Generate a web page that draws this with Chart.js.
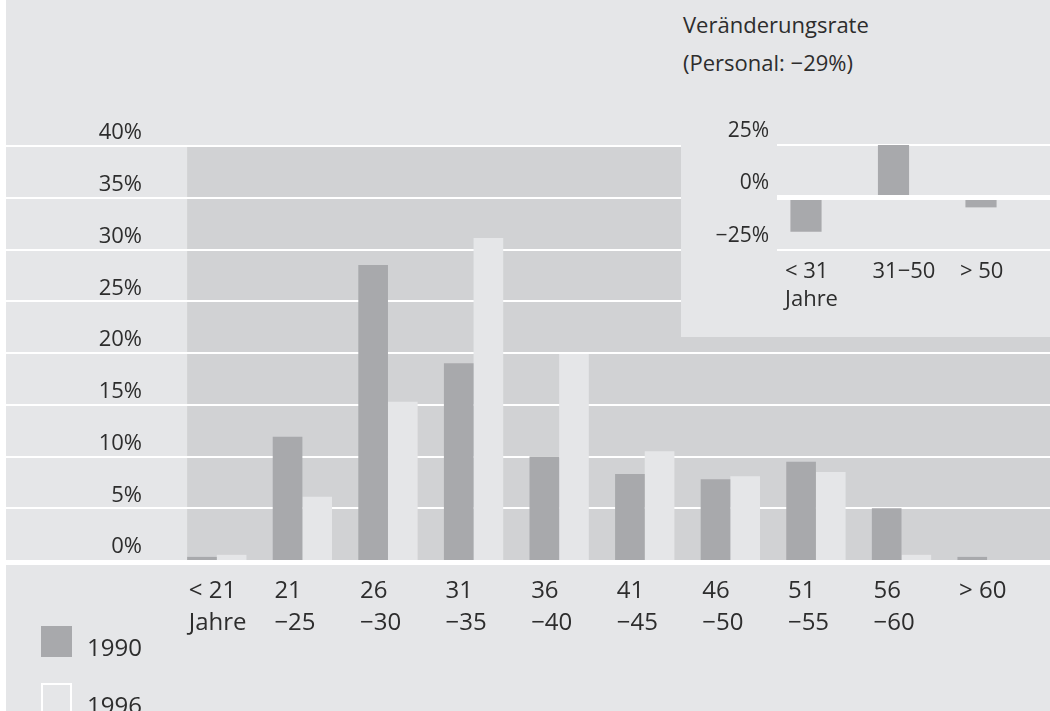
<!DOCTYPE html>
<html lang="de">
<head>
  <meta charset="UTF-8" />
  <title>Altersstruktur 1990 / 1996</title>
  <script src="https://cdn.jsdelivr.net/npm/chart.js"></script>
  <style>
    body {
      margin: 0;
      background: #ffffff;
      font-family: "Open Sans", "Noto Sans", sans-serif;
      color: #2d2d2d;
    }
    #wrap {
      position: relative;
      width: 1050px;
      height: 711px;
      overflow: hidden;
      background: #ffffff;
    }
    #paper {
      position: absolute;
      left: 6px; top: 0; right: 0; bottom: 0;
      background: #e5e6e8;
    }
    #mainChart { position: absolute; left: 0; top: 0; }
    #inset {
      position: absolute;
      left: 681px; top: 0;
      width: 369px; height: 337px;
      background: #e5e6e8;
    }
    #insetChart { position: absolute; left: 0; top: 0; }
    .title {
      position: absolute;
      left: 2px;
      font-size: 22px;
      line-height: 22px;
      white-space: nowrap;
    }
    .legend-box {
      position: absolute;
      left: 41px;
      width: 31px; height: 31px;
      box-sizing: border-box;
    }
    .legend-text {
      position: absolute;
      left: 87px;
      font-size: 24px;
      line-height: 24px;
    }
  </style>
</head>
<body>
  <div id="wrap">
    <div id="paper"></div>
    <canvas id="mainChart" width="1050" height="711"></canvas>

    <div id="inset">
      <div class="title" style="top:13px">Veränderungsrate</div>
      <div class="title" style="top:51px">(Personal: −29%)</div>
      <canvas id="insetChart" width="369" height="337"></canvas>
    </div>

    <div class="legend-box" style="top:626px; background:#a8a9ac"></div>
    <div class="legend-text" style="top:635px">1990</div>
    <div class="legend-box" style="top:683px; background:#e5e6e8; border:2px solid #ffffff"></div>
    <div class="legend-text" style="top:693px">1996</div>
  </div>

  <script>
    // --- data ---
    const ageGroups = [['< 21', 'Jahre'], ['21', '−25'], ['26', '−30'], ['31', '−35'], ['36', '−40'],
                       ['41', '−45'], ['46', '−50'], ['51', '−55'], ['56', '−60'], ['> 60']];
    const share1990 = [0.3, 11.9, 28.5, 19.0, 10.0, 8.3, 7.8, 9.5, 5.0, 0.3];
    const share1996 = [0.5, 6.1, 15.3, 31.1, 19.9, 10.5, 8.1, 8.5, 0.5, 0];
    const shareTicks = [0, 5, 10, 15, 20, 25, 30, 35, 40];

    const rateGroups = [['< 31', 'Jahre'], '31−50', '> 50'];
    const rateValues = [-16.3, 25, -4.7];
    const rateTicks = [-25, 0, 25];

    const DARK = '#a8a9ac';
    const LIGHT = '#e5e6e8';
    const PLOT_BG = '#d1d2d4';
    const CAT_PCT = 0.693;

    Chart.defaults.font.family = '"Open Sans", "Noto Sans", sans-serif';
    Chart.defaults.color = '#2d2d2d';

    const pct = v => (v < 0 ? '−' + Math.abs(v) : v) + '%';

    // darker plot field + white grid lines behind the bars, thick zero line on top
    const mainBackdrop = {
      id: 'mainBackdrop',
      beforeDatasetsDraw(chart) {
        const { ctx, scales: { x, y } } = chart;
        const W = chart.width;
        const groupW = x.width / ageGroups.length * CAT_PCT;
        const left = x.getPixelForValue(0) - groupW / 2;
        const top = y.getPixelForValue(shareTicks[shareTicks.length - 1]);
        ctx.save();
        ctx.fillStyle = PLOT_BG;
        ctx.fillRect(left, top, W - left, y.getPixelForValue(0) - top);
        ctx.fillStyle = '#ffffff';
        shareTicks.forEach(v => {
          if (v === 0) return;
          ctx.fillRect(6, Math.round(y.getPixelForValue(v)) - 1, W - 6, 2);
        });
        ctx.restore();
      },
      afterDatasetsDraw(chart) {
        const { ctx, scales: { y } } = chart;
        ctx.save();
        ctx.fillStyle = '#ffffff';
        ctx.fillRect(6, Math.round(y.getPixelForValue(0)), chart.width - 6, 5);
        ctx.restore();
      }
    };

    new Chart(document.getElementById('mainChart'), {
      type: 'bar',
      data: {
        labels: ageGroups,
        datasets: [
          { label: '1990', data: share1990, backgroundColor: DARK },
          { label: '1996', data: share1996, backgroundColor: LIGHT }
        ]
      },
      options: {
        responsive: false,
        animation: false,
        events: [],
        layout: { padding: { top: 146, right: 10, left: 0, bottom: 0 } },
        datasets: { bar: { barPercentage: 1, categoryPercentage: CAT_PCT, borderWidth: 0 } },
        plugins: { legend: { display: false }, tooltip: { enabled: false } },
        scales: {
          x: {
            grid: { display: false, drawTicks: false, tickLength: 0 },
            border: { display: false },
            ticks: {
              align: 'start',
              labelOffset: -28,
              padding: 15,
              maxRotation: 0,
              autoSkip: false,
              font: { size: 24, lineHeight: 32 / 24 }
            },
            afterFit: s => { s.height = 151; }
          },
          y: {
            min: 0,
            max: 40,
            grid: { display: false, drawTicks: false, tickLength: 0 },
            border: { display: false },
            afterBuildTicks: s => { s.ticks = shareTicks.map(v => ({ value: v })); },
            ticks: {
              padding: 32,
              labelOffset: -13,
              font: { size: 22 },
              callback: v => pct(v)
            },
            afterFit: s => { s.width = 174; }
          }
        }
      },
      plugins: [mainBackdrop]
    });

    // inset: rate of change
    const insetGrid = {
      id: 'insetGrid',
      beforeDatasetsDraw(chart) {
        const { ctx, scales: { y } } = chart;
        ctx.save();
        ctx.fillStyle = '#ffffff';
        rateTicks.forEach(v => {
          if (v === 0) return;
          ctx.fillRect(96, Math.round(y.getPixelForValue(v)) - 1, chart.width - 96, 2);
        });
        ctx.restore();
      },
      afterDatasetsDraw(chart) {
        const { ctx, scales: { y } } = chart;
        ctx.save();
        ctx.fillStyle = '#ffffff';
        ctx.fillRect(96, Math.round(y.getPixelForValue(0) - 2.5), chart.width - 96, 5);
        ctx.restore();
      }
    };

    new Chart(document.getElementById('insetChart'), {
      type: 'bar',
      data: {
        labels: rateGroups,
        datasets: [{ label: 'Veränderungsrate', data: rateValues, backgroundColor: DARK, clip: false }]
      },
      options: {
        responsive: false,
        animation: false,
        events: [],
        layout: { padding: { top: 145, right: 69, left: 0, bottom: 0 } },
        datasets: { bar: { barPercentage: 1, categoryPercentage: 0.356, borderWidth: 0 } },
        plugins: { legend: { display: false }, tooltip: { enabled: false } },
        scales: {
          x: {
            offset: false,
            grid: { display: false, drawTicks: false, tickLength: 0 },
            border: { display: false },
            ticks: {
              align: 'start',
              labelOffset: -21,
              padding: 8,
              maxRotation: 0,
              autoSkip: false,
              font: { size: 22, lineHeight: 28 / 22 }
            },
            afterFit: s => { s.height = 87; }
          },
          y: {
            min: -25,
            max: 25,
            grid: { display: false, drawTicks: false, tickLength: 0 },
            border: { display: false },
            afterBuildTicks: s => { s.ticks = rateTicks.map(v => ({ value: v })); },
            ticks: {
              padding: 37,
              labelOffset: -14,
              font: { size: 21 },
              callback: v => pct(v)
            },
            afterFit: s => { s.width = 125; }
          }
        }
      },
      plugins: [insetGrid]
    });
  </script>
</body>
</html>
